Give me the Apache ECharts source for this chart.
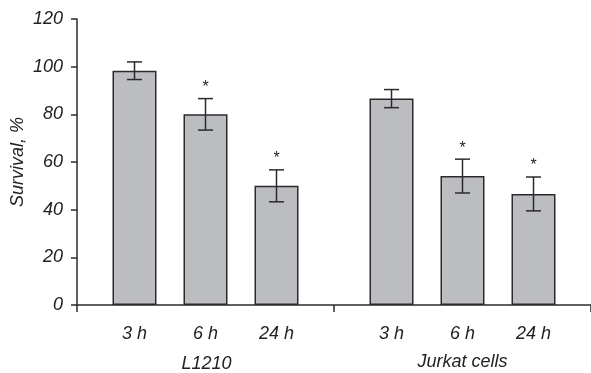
<!DOCTYPE html>
<html><head><meta charset="utf-8">
<script src="https://cdn.jsdelivr.net/npm/echarts@6/dist/echarts.min.js"></script>
<style>html,body{margin:0;padding:0;background:#fff}#c{width:591px;height:373px}</style>
</head><body><div id="c"></div>
<script>
const groups = ['L1210', 'Jurkat cells'];
const times = ['3 h', '6 h', '24 h'];
// means per time point, [L1210, Jurkat]
const mean3h = [98.3, 86.6];
const mean6h = [80.0, 54.1];
const mean24h = [50.0, 46.6];
const err3h = [3.7, 3.8];
const err6h = [6.6, 7.1];
const err24h = [6.7, 7.1];
const sig3h = [0, 0];
const sig6h = [1, 1];
const sig24h = [1, 1];
const yTicks = [0, 20, 40, 60, 80, 100, 120];

const means = [mean3h, mean6h, mean24h];
const errs = [err3h, err6h, err24h];
const sigs = [sig3h, sig6h, sig24h];

const FONT = '"Liberation Sans", Arial, sans-serif';
const FS = 18;
const BAR_W = 44, BAR_GAP = 27;
const dark = '#2b2b2b';
const txt = '#222';

const series = [];
times.forEach((t, i) => {
  series.push({
    type: 'bar', name: t, barWidth: BAR_W, barGap: (BAR_GAP / BAR_W * 100) + '%',
    data: means[i],
    itemStyle: { color: '#bcbdc1', borderColor: dark, borderWidth: 1.5 },
    label: { show: true, position: 'bottom', distance: 20, formatter: t,
      fontFamily: FONT, fontStyle: 'italic', fontSize: FS, color: txt },
    silent: true
  });
});
times.forEach((t, i) => {
  const offset = (i - 1) * (BAR_W + BAR_GAP);
  series.push({
    type: 'custom', name: t + ' err', z: 5, silent: true,
    data: means[i].map((m, g) => [g, m, errs[i][g], sigs[i][g]]),
    renderItem: function (params, api) {
      const g = api.value(0), m = api.value(1), e = api.value(2), s = api.value(3);
      const hi = api.coord([g, m + e]);
      const lo = api.coord([g, m - e]);
      const x = hi[0] + offset;
      const hw = 7.5;
      const st = { stroke: dark, lineWidth: 1.5 };
      const children = [
        { type: 'line', shape: { x1: x, y1: hi[1], x2: x, y2: lo[1] }, style: st },
        { type: 'line', shape: { x1: x - hw, y1: hi[1], x2: x + hw, y2: hi[1] }, style: st },
        { type: 'line', shape: { x1: x - hw, y1: lo[1], x2: x + hw, y2: lo[1] }, style: st }
      ];
      if (s) {
        children.push({ type: 'text', style: { text: '*', x: x, y: hi[1] - 11,
          align: 'center', verticalAlign: 'middle', fontSize: 16, fontFamily: FONT, fill: txt } });
      }
      return { type: 'group', children: children };
    }
  });
});

const chart = echarts.init(document.getElementById('c'), null, { renderer: 'canvas' });
chart.setOption({
  animation: false,
  grid: { left: 77, right: 0, top: 19, bottom: 68, outerBoundsMode: 'none', containLabel: false },
  xAxis: {
    type: 'category', data: groups,
    axisLine: { lineStyle: { color: dark, width: 1.5 } },
    axisTick: { show: true, length: 7, lineStyle: { color: dark, width: 1.5 } },
    axisLabel: {
      margin: 48, interval: 0,
      formatter: function (v) { return v === 'L1210' ? '{a|' + v + '}' : '{b|' + v + '}'; },
      rich: {
        a: { fontFamily: FONT, fontStyle: 'italic', fontSize: FS, color: txt, padding: [2, 0, 0, 2] },
        b: { fontFamily: FONT, fontStyle: 'italic', fontSize: FS, color: txt, padding: [0, 0, 0, 0] }
      }
    }
  },
  yAxis: {
    type: 'value', min: yTicks[0], max: yTicks[yTicks.length - 1], interval: 20,
    name: 'Survival, %', nameLocation: 'middle', nameGap: 50, nameRotate: 90, nameMoveOverlap: false,
    nameTextStyle: { fontFamily: FONT, fontStyle: 'italic', fontSize: FS, color: txt },
    splitLine: { show: false },
    axisLine: { show: true, lineStyle: { color: dark, width: 1.5 } },
    axisTick: { show: true, length: 6, lineStyle: { color: dark, width: 1.5 } },
    axisLabel: { margin: 14, fontFamily: FONT, fontStyle: 'italic', fontSize: FS, color: txt }
  },
  series: series
});
</script></body></html>
